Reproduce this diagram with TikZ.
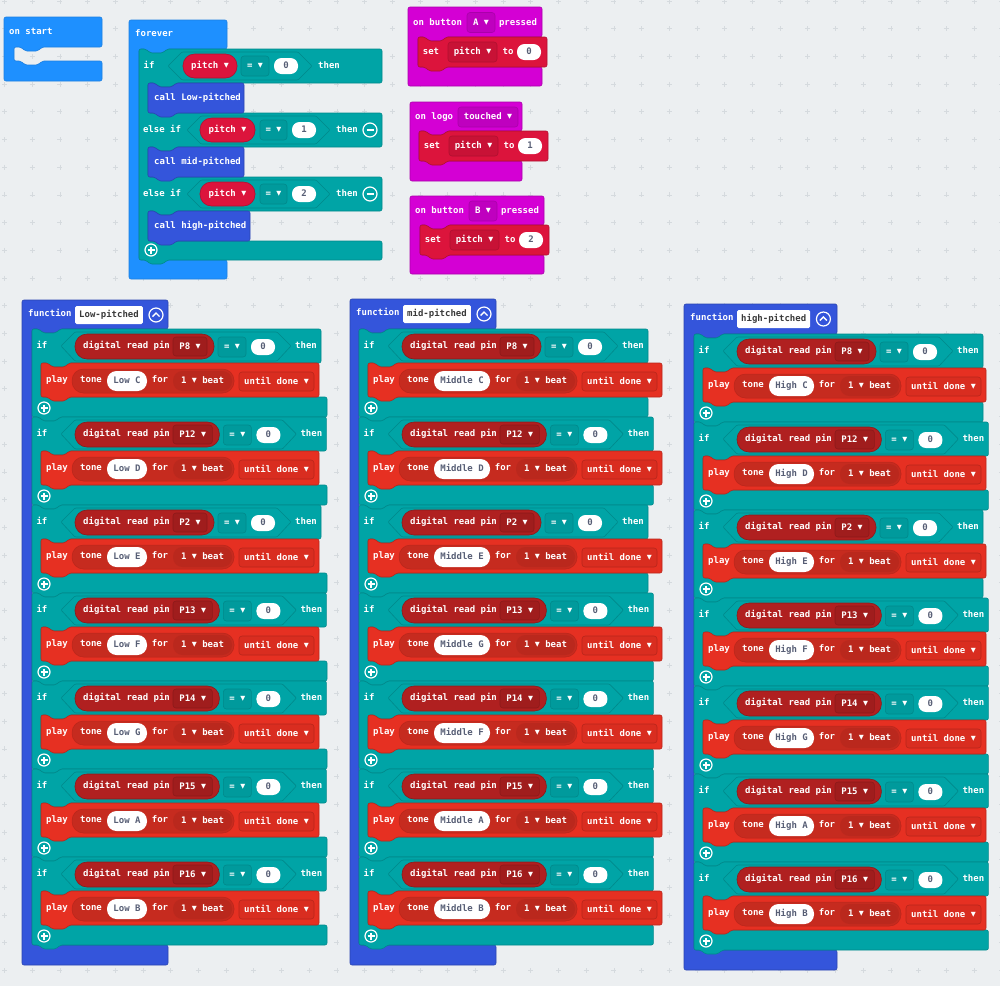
\documentclass[tikz,border=0pt]{standalone}
\usepackage{fontspec}
\setmonofont{DejaVu Sans Mono}
\newfontfamily\symf{DejaVu Sans}
\usetikzlibrary{calc}
\definecolor{bgc}{HTML}{ECEFF1}
\definecolor{gridc}{HTML}{D5DADE}
\definecolor{evb}{HTML}{1E90FF}\definecolor{evbD}{HTML}{1C7FE0}
\definecolor{fnc}{HTML}{3455DB}\definecolor{fnD}{HTML}{2A44B0}
\definecolor{tl}{HTML}{00A4A6}\definecolor{tlD}{HTML}{00898B}\definecolor{tlB}{HTML}{009A9C}
\definecolor{cr}{HTML}{DC143C}\definecolor{crD}{HTML}{B01030}\definecolor{crB}{HTML}{C81236}
\definecolor{pin}{HTML}{B02020}\definecolor{pinD}{HTML}{8C1A1A}\definecolor{pinB}{HTML}{A01D1D}
\definecolor{mu}{HTML}{E63022}\definecolor{muD}{HTML}{B8261B}\definecolor{tonec}{HTML}{C62B1F}
\definecolor{beatc}{HTML}{BA281D}\definecolor{untilc}{HTML}{D92D20}
\definecolor{mg}{HTML}{D400D4}\definecolor{mgD}{HTML}{AA00AA}\definecolor{mgB}{HTML}{BF00BF}
\definecolor{numc}{HTML}{575E75}\definecolor{namec}{HTML}{3A3A3A}
\newcommand\bk{\ttfamily\bfseries\fontsize{9}{10}\selectfont}
\newcommand\tri{\raisebox{0.6pt}{\symf\fontsize{6.5}{6.5}\selectfont ▼}}
\tikzset{
 blk/.style={rounded corners=2pt, line width=0.6pt},
 evblk/.style={blk, fill=evb, draw=evbD},
 fnblk/.style={blk, fill=fnc, draw=fnD},
 tlblk/.style={blk, fill=tl, draw=tlD},
 crblk/.style={blk, fill=cr, draw=crD},
 mublk/.style={blk, fill=mu, draw=muD},
 mgblk/.style={blk, fill=mg, draw=mgD},
 wt/.style={text=white, font=\bk, inner sep=0pt, text height=6.6pt, text depth=1.6pt},
 ddbox/.style 2 args={wt, fill=#1, draw=#2, line width=0.6pt, rounded corners=3pt},
 wpill/.style={wt, text=numc, fill=white, rounded corners=7.5pt, minimum height=16pt},
 crpill/.style={wt, fill=cr, draw=crD, line width=0.6pt, rounded corners=11.5pt, minimum height=24pt},
 icon/.style={circle, draw=white, line width=1.2pt, inner sep=0pt, minimum size=12pt},
 iconline/.style={white, line width=1.4pt},
 namebox/.style={wt, text=namec, fill=white, rounded corners=1.5pt, minimum height=18pt, inner xsep=4pt},
}
% statement block with top notch and bottom tab
\newcommand\stm[5]{%
 \path[#1] (#2,#3) -- ++(7,0) -- ++(4,4) -- ++(13,0) -- ++(4,-4) -- ({#2+#4},#3) -- ({#2+#4},{#3+#5}) -- ({#2+28},{#3+#5}) -- ++(-4,4) -- ++(-13,0) -- ++(-4,-4) -- (#2,{#3+#5}) -- cycle;}
\newcommand\setblk[4]{%
 \stm{crblk}{#1}{#2}{129}{30}
 \node[wt] (#4set) at (#1+13,#2+15) {set};
 \node[ddbox={crB}{crD}, minimum width=49pt, minimum height=20pt] (#4var) at (#1+54.5,#2+15) {pitch \tri};
 \node[wt] (#4to) at (#1+90,#2+15) {to};
 \node[wpill, minimum width=24pt] (#4val) at (#1+111,#2+15) {#3};
}
\newcommand\fnif[8]{%
 \pgfmathsetmacro\hR{#1+289+#4}%
 \pgfmathsetmacro\bR{#1+#7}%
 \pgfmathsetmacro\yc{#2+17}%
 \pgfmathsetmacro\yp{#2+51}%
 \path[tlblk] (#1,#2) -- ++(7,0) -- ++(4,4) -- ++(13,0) -- ++(4,-4) -- (\hR,#2) -- (\hR,#2+34) -- (#1+37,#2+34) -- ++(-4,4) -- ++(-13,0) -- ++(-4,-4) -- (#1+9,#2+34) -- (#1+9,#2+68) -- (\bR,#2+68) -- (\bR,#2+88) -- (#1+28,#2+88) -- ++(-4,4) -- ++(-13,0) -- ++(-4,-4) -- (#1,#2+88) -- cycle;
 \node[wt] (#8if) at (#1+10,\yc) {if};
 \path[tlblk, rounded corners=1pt] (#1+29,\yc) -- (#1+43,#2+3) -- ({#1+245+#4},#2+3) -- ({#1+259+#4},\yc) -- ({#1+245+#4},#2+32) -- (#1+43,#2+32) -- cycle;
 \path[fill=pin, draw=pinD, line width=0.6pt, rounded corners=12pt] (#1+43,#2+5) rectangle ({#1+182+#4},#2+30);
 \node[wt, anchor=west] (#8read) at (#1+51,\yc) {digital read pin};
 \node[ddbox={pinB}{pinD}, minimum width={34+#4}, minimum height=19pt] (#8pin) at ({#1+158+#4/2},#2+17.5) {#3 \tri};
 \node[ddbox={tlB}{tlD}, minimum width=28pt, minimum height=20pt] (#8eq) at ({#1+200+#4},#2+18) {= \tri};
 \node[wpill, minimum width=24pt] (#8num) at ({#1+231+#4},#2+18) {0};
 \node[wt] (#8then) at ({#1+274+#4},\yc) {then};
 \stm{mublk}{#1+9}{#2+34}{#6+163}{34}
 \node[wt] (#8play) at (#1+25,\yp) {play};
 \path[fill=tonec, draw=muD, line width=0.5pt, rounded corners=11.5pt] (#1+40,#2+40) rectangle (#1+#6+87,#2+64);
 \node[wt] (#8tone) at (#1+59,\yp) {tone};
 \node[wpill, minimum width={#6-75}, minimum height=20pt, rounded corners=9.5pt] (#8note) at ({#1+(75+#6)/2},#2+52) {#5};
 \node[wt] (#8for) at (#1+#6+13,\yp) {for};
 \node[wt, fill=beatc, rounded corners=9.5pt, minimum width=59pt, minimum height=20pt] (#8beat) at (#1+#6+55.5,#2+52) {1 \tri\ beat};
 \node[ddbox={untilc}{muD}, minimum width=75pt, minimum height=19pt] (#8until) at (#1+#6+129.5,#2+52.5) {until done \tri};
 \node[icon] (#8plus) at (#1+12,#2+79) {};
 \draw[iconline] (#8plus.center) +(-3.5,0) -- +(3.5,0) (#8plus.center) +(0,-3.5) -- +(0,3.5);
}
\newcommand\fnhead[8]{%
 \path[fnblk] (#1,#2) -- (#3,#2) -- (#3,#5) -- (#4+28,#5) -- ++(-4,4) -- ++(-13,0) -- ++(-4,-4) -- (#4,#5) -- (#4,#6-20) -- (#3,#6-20) -- (#3,#6) -- (#1,#6) -- cycle;
 \node[wt, anchor=west] (#8fn) at (#1+6,#2+14) {function};
 \node[namebox, anchor=west] (#8name) at (#1+53,#2+15) {#7};
 \path (#8name.east) ++(13,0) node[icon, minimum size=14pt] (#8col) {};
 \draw[iconline] (#8col.center) +(-3.5,1.5) -- +(0,-2) -- +(3.5,1.5);
}
\begin{document}
\begin{tikzpicture}[x=1pt,y=-1pt]
\useasboundingbox (0,0) rectangle (1000,986);
\fill[bgc] (0,0) rectangle (1000,986);
\draw[gridc, line width=0.8pt] \foreach \i in {0,...,36}{\foreach \j in {0,...,35}{(4.5+27.7*\i-2.5,1+27.7*\j) -- ++(5,0) (4.5+27.7*\i,1+27.7*\j-2.5) -- ++(0,5)}};

% on start
\path[evblk] (4,17) -- (102,17) -- (102,47) -- (42,47) -- (38,51) -- (25,51) -- (21,47) -- (14,47) -- (14,61) -- (21,61) -- (25,65) -- (38,65) -- (42,61) -- (102,61) -- (102,81) -- (4,81) -- cycle;
\node[wt, anchor=west] (onstart) at (9,32) {on start};

% forever
\path[evblk] (129,20) -- (227,20) -- (227,49) -- (167,49) -- ++(-4,4) -- ++(-13,0) -- ++(-4,-4) -- (139,49) -- (139,260) -- (227,260) -- (227,279) -- (129,279) -- cycle;
\node[wt, anchor=west] (forever) at (135,34) {forever};
\path[tlblk] (139,49) -- ++(7,0) -- ++(4,4) -- ++(13,0) -- ++(4,-4) -- (382,49) -- (382,83) -- (176,83) -- ++(-4,4) -- ++(-13,0) -- ++(-4,-4) -- (148,83) -- (148,113) -- (382,113) -- (382,147) -- (176,147) -- ++(-4,4) -- ++(-13,0) -- ++(-4,-4) -- (148,147) -- (148,177) -- (382,177) -- (382,211) -- (176,211) -- ++(-4,4) -- ++(-13,0) -- ++(-4,-4) -- (148,211) -- (148,241) -- (382,241) -- (382,260) -- (167,260) -- ++(-4,4) -- ++(-13,0) -- ++(-4,-4) -- (139,260) -- cycle;
% row 1
\node[wt] (fif1) at (149,66) {if};
\path[tlblk, rounded corners=1pt] (168,66) -- (182,52) -- (298,52) -- (312,66) -- (298,80) -- (182,80) -- cycle;
\node[crpill, minimum width=54pt] (fvar1) at (210,66) {pitch \tri};
\node[ddbox={tlB}{tlD}, minimum width=28pt, minimum height=20pt] (feq1) at (255,66) {= \tri};
\node[wpill, minimum width=24pt] (fnum1) at (286,66) {0};
\node[wt] (fthen1) at (329,66) {then};
% rows 2,3
\foreach \k/\yr/\v in {2/130/1,3/194/2}{
 \node[wt] (fif\k) at (162,\yr) {else if};
 \path[tlblk, rounded corners=1pt] (187,\yr) -- (201,\yr-14) -- (316,\yr-14) -- (330,\yr) -- (316,\yr+14) -- (201,\yr+14) -- cycle;
 \node[crpill, minimum width=55pt] (fvar\k) at (227.5,\yr) {pitch \tri};
 \node[ddbox={tlB}{tlD}, minimum width=27pt, minimum height=20pt] (feq\k) at (273.5,\yr) {= \tri};
 \node[wpill, minimum width=24pt] (fnum\k) at (304,\yr) {\v};
 \node[wt] (fthen\k) at (347,\yr) {then};
 \node[icon, minimum size=14pt] (fminus\k) at (370,\yr) {};
 \draw[iconline] (fminus\k.center) +(-3.5,0) -- +(3.5,0);
}
\stm{fnblk}{148}{83}{96}{30}
\node[wt, anchor=west] (fcall1) at (154,98) {call Low-pitched};
\stm{fnblk}{148}{147}{96}{30}
\node[wt, anchor=west] (fcall2) at (154,162) {call mid-pitched};
\stm{fnblk}{148}{211}{102}{30}
\node[wt, anchor=west] (fcall3) at (154,226) {call high-pitched};
\node[icon] (fplus) at (151,250) {};
\draw[iconline] (fplus.center) +(-3.5,0) -- +(3.5,0) (fplus.center) +(0,-3.5) -- +(0,3.5);

% on button A pressed
\path[mgblk] (408,7) -- (542,7) -- (542,37) -- (446,37) -- ++(-4,4) -- ++(-13,0) -- ++(-4,-4) -- (418,37) -- (418,67) -- (542,67) -- (542,86) -- (408,86) -- cycle;
\node[wt, anchor=west] (ea1) at (413,22.5) {on button};
\node[ddbox={mgB}{mgD}, minimum width=28pt, minimum height=20pt] (ea2) at (481,22.5) {A \tri};
\node[wt] (ea3) at (518,22.5) {pressed};
\setblk{418}{37}{0}{sa}
% on logo touched
\path[mgblk] (410,102) -- (522,102) -- (522,131) -- (447,131) -- ++(-4,4) -- ++(-13,0) -- ++(-4,-4) -- (419,131) -- (419,161) -- (522,161) -- (522,181) -- (410,181) -- cycle;
\node[wt, anchor=west] (el1) at (415,117) {on logo};
\node[ddbox={mgB}{mgD}, minimum width=60pt, minimum height=20pt] (el2) at (488,117) {touched \tri};
\setblk{419}{131}{1}{sl}
% on button B pressed
\path[mgblk] (410,196) -- (544,196) -- (544,225) -- (448,225) -- ++(-4,4) -- ++(-13,0) -- ++(-4,-4) -- (420,225) -- (420,255) -- (544,255) -- (544,274) -- (410,274) -- cycle;
\node[wt, anchor=west] (eb1) at (415,211) {on button};
\node[ddbox={mgB}{mgD}, minimum width=28pt, minimum height=20pt] (eb2) at (483,211) {B \tri};
\node[wt] (eb3) at (520,211) {pressed};
\setblk{420}{225}{2}{sb}

% function Low-pitched
\fnhead{22}{300}{168}{32}{329}{965}{Low-pitched}{fa}
\foreach \r/\pin/\e/\nt in {0/P8/0/C,1/P12/5.4/D,2/P2/0/E,3/P13/5.4/F,4/P14/5.4/G,5/P15/5.4/A,6/P16/5.4/B}{
 \pgfmathsetmacro\yy{329+88*\r}
 \fnif{32}{\yy}{\pin}{\e}{Low \nt}{115}{295}{a\r}
}
% function mid-pitched
\fnhead{350}{299}{496}{359}{329}{965}{mid-pitched}{fb}
\foreach \r/\pin/\e/\nt in {0/P8/0/C,1/P12/5.4/D,2/P2/0/E,3/P13/5.4/G,4/P14/5.4/F,5/P15/5.4/A,6/P16/5.4/B}{
 \pgfmathsetmacro\yy{329+88*\r}
 \fnif{359}{\yy}{\pin}{\e}{Middle \nt}{131}{289+\e}{b\r}
}
% function high-pitched
\fnhead{684}{304}{837}{694}{334}{970}{high-pitched}{fc}
\foreach \r/\pin/\e/\nt in {0/P8/0/C,1/P12/5.4/D,2/P2/0/E,3/P13/5.4/F,4/P14/5.4/G,5/P15/5.4/A,6/P16/5.4/B}{
 \pgfmathsetmacro\yy{334+88*\r}
 \fnif{694}{\yy}{\pin}{\e}{High \nt}{120}{289+\e}{c\r}
}
\end{tikzpicture}
\end{document}
